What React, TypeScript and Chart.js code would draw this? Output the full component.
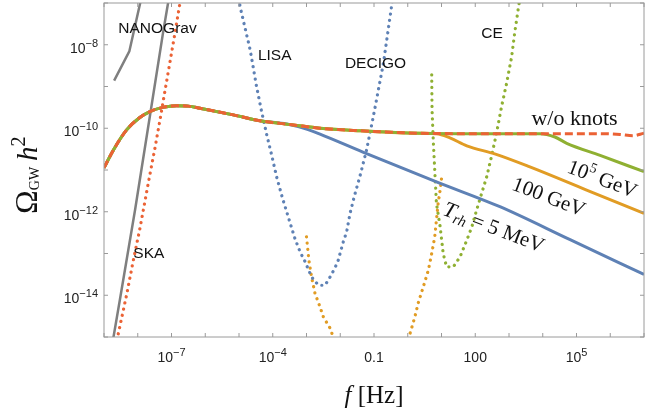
import React, { useRef, useEffect } from "react";
import Chart from "chart.js/auto";

// every value below is log10: frequency f [Hz] and Omega_GW h^2
// common rise + peak shared by all spectra
const baseLogF = [-9, -8.72, -8.33, -7.95, -7.64, -7.25, -6.85, -6.5, -6.16, -5.17, -4.38];
const baseLogOmega = [-10.95, -10.52, -10.04, -9.75, -9.6, -9.5, -9.46, -9.47, -9.52, -9.68, -9.82];

// plateau shared by 100 GeV, 10^5 GeV and w/o knots
const plateauLogF = [-3.39, -2.6, -1.41, 0.36];
const plateauLogOmega = [-9.92, -10.0, -10.06, -10.12];

const noKnotsLogF = [2.14, 3.92, 5.7, 6.29, 6.67, 7.0];
const noKnotsLogOmega = [-10.13, -10.13, -10.13, -10.15, -10.18, -10.12];

const gev1e5LogF = [2.14, 3.92, 4.36, 4.71, 5.7, 7.0];
const gev1e5LogOmega = [-10.13, -10.13, -10.21, -10.36, -10.65, -11.04];

const gev100LogF = [0.86, 1.25, 1.75, 2.6, 3.6, 5.3, 7.0];
const gev100LogOmega = [-10.13, -10.23, -10.42, -10.62, -10.92, -11.48, -12.04];

const mev5LogF = [-3.58, -3.0, -2.6, -1.33, 0.87, 2.73, 4.81, 7.0];
const mev5LogOmega = [-9.9, -10.02, -10.14, -10.57, -11.29, -11.88, -12.67, -13.5];

// detector sensitivities
const nanogravLogF = [-8.7, -8.25, -7.9];
const nanogravLogOmega = [-8.86, -8.16, -6.9];

const skaLogF = [-8.75, -8.08, -7.25, -7.08];
const skaLogOmega = [-15.15, -11.96, -7.71, -6.9];

const ptaDotLogF = [-8.644, -8.585, -8.319, -8.141, -7.933, -7.785, -7.637, -7.489, -7.341, -7.193, -7.044, -6.896, -6.748];
const ptaDotLogOmega = [-15.22, -14.954, -13.947, -13.204, -12.388, -11.741, -11.094, -10.47, -9.799, -9.103, -8.408, -7.712, -6.993];

const lisaLogF = [-5.0, -4.97, -4.67, -4.48, -4.33, -4.18, -4.03, -3.89, -3.72, -3.55, -3.34, -3.19, -3.04, -2.85, -2.65, -2.45, -2.3, -2.16, -2.06, -1.91, -1.81, -1.71, -1.58, -1.42, -1.22, -1.02, -0.87, -0.72, -0.48, -0.44];
const lisaLogOmega = [-6.9, -7.08, -8.12, -9.0, -9.6, -10.15, -10.65, -11.15, -11.65, -12.1, -12.65, -12.96, -13.2, -13.56, -13.76, -13.76, -13.56, -13.35, -13.16, -12.72, -12.48, -12.04, -11.62, -11.16, -10.52, -9.72, -9.08, -8.44, -7.08, -6.9];

const decigoLeftLogF = [-3.0, -2.97, -2.93, -2.85, -2.75, -2.6, -2.5, -2.3, -2.21, -2.13];
const decigoLeftLogOmega = [-12.6, -12.84, -13.16, -13.56, -13.95, -14.28, -14.52, -14.79, -15.0, -15.2];
const decigoRightLogF = [0.0, 0.07, 0.21, 0.31, 0.46, 0.61, 0.71, 0.8, 0.85, 0.9, 0.96, 1.02];
const decigoRightLogOmega = [-15.2, -14.91, -14.52, -14.19, -13.8, -13.4, -13.0, -12.6, -12.2, -11.8, -11.48, -11.08];

const ceLogF = [0.71, 0.72, 0.76, 0.81, 0.85, 0.96, 1.05, 1.15, 1.35, 1.55, 1.75, 1.9, 2.04, 2.19, 2.34, 2.48, 2.63, 2.78, 2.93, 3.08, 3.17, 3.27, 3.31];
const ceLogOmega = [-8.72, -9.56, -10.36, -11.16, -11.8, -12.36, -13.0, -13.32, -13.32, -13.08, -12.68, -12.36, -11.96, -11.56, -11.16, -10.68, -10.12, -9.48, -8.92, -8.28, -7.71, -7.16, -6.95];

// axes
const xMinExp = -9;
const xMaxExp = 7;
const yMinExp = -15;
const yMaxExp = -7;
const xTickValues = [1e-7, 1e-4, 0.1, 100, 1e5];
const xTickLabels = ["10⁻⁷", "10⁻⁴", "0.1", "100", "10⁵"];
const yTickValues = [1e-8, 1e-10, 1e-12, 1e-14];
const yTickLabels = ["10⁻⁸", "10⁻¹⁰", "10⁻¹²", "10⁻¹⁴"];

const BLUE = "#5E81B5";
const ORANGE = "#E19C24";
const GREEN = "#8FB032";
const RED = "#EB6235";
const GRAY = "#7F7F7F";
const SERIF = '"Liberation Serif", "Times New Roman", serif';
const SANS = '"Liberation Sans", Arial, sans-serif';

const SUP: Record<string, string> = {
  "⁰": "0", "¹": "1", "²": "2", "³": "3", "⁴": "4", "⁵": "5",
  "⁶": "6", "⁷": "7", "⁸": "8", "⁹": "9", "⁻": "−",
};

const toPoints = (lf: number[], lo: number[]) =>
  lf.map((f, i) => ({ x: Math.pow(10, f), y: Math.pow(10, lo[i]) }));

const solid = (label: string, data: any[], color: string, order: number, extra: any = {}) => ({
  label,
  data,
  borderColor: color,
  borderWidth: 3,
  pointRadius: 0,
  showLine: true,
  cubicInterpolationMode: "monotone",
  order,
  clip: 0,
  ...extra,
});

const dotted = (label: string, data: any[], color: string) => ({
  label,
  data,
  borderColor: color,
  borderWidth: 3.2,
  borderDash: [0.1, 6.2],
  borderCapStyle: "round",
  pointRadius: 0,
  showLine: true,
  tension: 0,
  order: 10,
  clip: 0,
});

type Run = { t: string; font: string; dy?: number };

const drawRuns = (
  ctx: CanvasRenderingContext2D,
  runs: Run[],
  x: number,
  y: number,
  angle: number,
  align: "left" | "center" | "right",
  shift = 0
) => {
  ctx.save();
  ctx.translate(x, y);
  ctx.rotate(angle);
  ctx.textAlign = "left";
  ctx.textBaseline = "alphabetic";
  const widths = runs.map((r) => {
    ctx.font = r.font;
    return ctx.measureText(r.t).width;
  });
  const total = widths.reduce((a, b) => a + b, 0);
  let cx = align === "center" ? -total / 2 : align === "right" ? -total : 0;
  runs.forEach((r, i) => {
    ctx.font = r.font;
    ctx.fillText(r.t, cx, shift + (r.dy ?? 0));
    cx += widths[i];
  });
  ctx.restore();
};

// "10⁻⁸" -> base "10" + raised exponent
const tickRuns = (label: string): Run[] => {
  const chars = [...label];
  const k = chars.findIndex((c) => SUP[c] !== undefined);
  if (k < 0) return [{ t: label, font: `14px ${SANS}` }];
  return [
    { t: chars.slice(0, k).join(""), font: `14px ${SANS}` },
    { t: chars.slice(k).map((c) => SUP[c]).join(""), font: `11px ${SANS}`, dy: -6 },
  ];
};

const decorPlugin = {
  id: "decor",
  afterDraw(chart: any) {
    const { ctx, chartArea: a, scales } = chart;
    const xs = scales.x;
    const ys = scales.y;
    ctx.save();

    // frame with inward ticks
    ctx.strokeStyle = "#9a9a9a";
    ctx.lineWidth = 1;
    ctx.strokeRect(a.left, a.top, a.right - a.left, a.bottom - a.top);
    ctx.beginPath();
    for (let e = xMinExp; e <= xMaxExp; e++) {
      const px = xs.getPixelForValue(Math.pow(10, e));
      ctx.moveTo(px, a.bottom);
      ctx.lineTo(px, a.bottom - 4);
      ctx.moveTo(px, a.top);
      ctx.lineTo(px, a.top + 4);
    }
    for (let e = yMinExp; e <= yMaxExp; e++) {
      const py = ys.getPixelForValue(Math.pow(10, e));
      ctx.moveTo(a.left, py);
      ctx.lineTo(a.left + 4, py);
      ctx.moveTo(a.right, py);
      ctx.lineTo(a.right - 4, py);
    }
    ctx.stroke();

    // tick labels
    ctx.fillStyle = "#222";
    xTickValues.forEach((v, i) => {
      drawRuns(ctx, tickRuns(xTickLabels[i]), xs.getPixelForValue(v), a.bottom + 25, 0, "center");
    });
    yTickValues.forEach((v, i) => {
      drawRuns(ctx, tickRuns(yTickLabels[i]), a.left - 6, ys.getPixelForValue(v) + 8, 0, "right");
    });

    ctx.fillStyle = "#111";

    // detector names
    ctx.font = `15.5px ${SANS}`;
    ctx.textAlign = "center";
    ctx.textBaseline = "alphabetic";
    ctx.fillText("NANOGrav", 157.5, 33);
    ctx.fillText("LISA", 274.7, 60);
    ctx.fillText("DECIGO", 375.5, 67.7);
    ctx.fillText("CE", 492, 38.3);
    ctx.fillText("SKA", 148.8, 258.3);

    // curve labels
    const ang = 0.367;
    ctx.font = `22px ${SERIF}`;
    ctx.fillText("w/o knots", 574.5, 125);
    drawRuns(
      ctx,
      [
        { t: "10", font: `21px ${SERIF}` },
        { t: "5", font: `14px ${SERIF}`, dy: -9 },
        { t: " GeV", font: `21px ${SERIF}` },
      ],
      602.5,
      178.5,
      ang,
      "center",
      7
    );
    drawRuns(ctx, [{ t: "100 GeV", font: `21px ${SERIF}` }], 549, 196.5, ang, "center", 7);
    drawRuns(
      ctx,
      [
        { t: "T", font: `italic 22px ${SERIF}` },
        { t: "rh", font: `italic 15px ${SERIF}`, dy: 4 },
        { t: " = 5 MeV", font: `21px ${SERIF}` },
      ],
      494,
      227,
      ang,
      "center",
      7
    );

    // axis titles
    drawRuns(
      ctx,
      [
        { t: "Ω", font: `32px ${SERIF}` },
        { t: "GW", font: `14px ${SERIF}`, dy: 2 },
        { t: " ", font: `24px ${SERIF}` },
        { t: "h", font: `italic 29px ${SERIF}` },
        { t: "2", font: `20px ${SERIF}`, dy: -12 },
      ],
      37,
      214,
      -Math.PI / 2,
      "left"
    );
    drawRuns(
      ctx,
      [
        { t: "f", font: `italic 25px ${SERIF}` },
        { t: " [Hz]", font: `25px ${SERIF}` },
      ],
      374,
      403,
      0,
      "center"
    );

    ctx.restore();
  },
};

const decadeTicks = (lo: number, hi: number) => {
  const t = [];
  for (let e = lo; e <= hi; e++) t.push({ value: Math.pow(10, e) });
  return t;
};

const GwSpectrum: React.FC = () => {
  const canvasRef = useRef<HTMLCanvasElement | null>(null);
  const chartRef = useRef<Chart | null>(null);

  useEffect(() => {
    if (!canvasRef.current) return;
    document.body.style.margin = "0";

    const plateauF = [...baseLogF, ...plateauLogF];
    const plateauO = [...baseLogOmega, ...plateauLogOmega];

    chartRef.current = new Chart(canvasRef.current, {
      type: "scatter",
      data: {
        datasets: [
          solid("w/o knots", toPoints([...plateauF, ...noKnotsLogF], [...plateauO, ...noKnotsLogOmega]), RED, 0, {
            borderDash: [8, 4],
          }),
          solid("10^5 GeV", toPoints([...plateauF, ...gev1e5LogF], [...plateauO, ...gev1e5LogOmega]), GREEN, 1),
          solid("100 GeV", toPoints([...plateauF, ...gev100LogF], [...plateauO, ...gev100LogOmega]), ORANGE, 2),
          solid("5 MeV", toPoints([...baseLogF, ...mev5LogF], [...baseLogOmega, ...mev5LogOmega]), BLUE, 3),
          solid("NANOGrav", toPoints(nanogravLogF, nanogravLogOmega), GRAY, 5, {
            borderWidth: 2.5,
            cubicInterpolationMode: "default",
            tension: 0,
          }),
          solid("SKA", toPoints(skaLogF, skaLogOmega), GRAY, 5, { borderWidth: 2.5 }),
          dotted("PTA", toPoints(ptaDotLogF, ptaDotLogOmega), RED),
          dotted("LISA", toPoints(lisaLogF, lisaLogOmega), BLUE),
          dotted("DECIGO low", toPoints(decigoLeftLogF, decigoLeftLogOmega), ORANGE),
          dotted("DECIGO high", toPoints(decigoRightLogF, decigoRightLogOmega), ORANGE),
          dotted("CE", toPoints(ceLogF, ceLogOmega), GREEN),
        ] as any,
      },
      options: {
        animation: false,
        responsive: true,
        maintainAspectRatio: false,
        layout: { padding: { top: 3, right: 5, left: 0, bottom: 0 } },
        plugins: { legend: { display: false }, tooltip: { enabled: false } },
        events: [],
        scales: {
          x: {
            type: "logarithmic",
            position: "bottom",
            min: Math.pow(10, xMinExp),
            max: Math.pow(10, xMaxExp),
            grid: { display: false },
            border: { display: false },
            afterBuildTicks: (s: any) => {
              s.ticks = decadeTicks(xMinExp, xMaxExp);
            },
            afterFit: (s: any) => {
              s.height = 79;
              s.paddingLeft = 0;
              s.paddingRight = 0;
            },
            ticks: { display: false },
          },
          y: {
            type: "logarithmic",
            min: Math.pow(10, yMinExp),
            max: Math.pow(10, yMaxExp),
            grid: { display: false },
            border: { display: false },
            afterBuildTicks: (s: any) => {
              s.ticks = decadeTicks(yMinExp, yMaxExp);
            },
            afterFit: (s: any) => {
              s.width = 104;
              s.paddingTop = 0;
              s.paddingBottom = 0;
            },
            ticks: { display: false },
          },
        },
      } as any,
      plugins: [decorPlugin],
    });

    return () => chartRef.current?.destroy();
  }, []);

  return (
    <div style={{ position: "absolute", left: 0, top: 0, width: 649, height: 416, background: "#fff" }}>
      <canvas ref={canvasRef} style={{ width: "100%", height: "100%" }} />
    </div>
  );
};

export default function App() {
  return <GwSpectrum />;
}
